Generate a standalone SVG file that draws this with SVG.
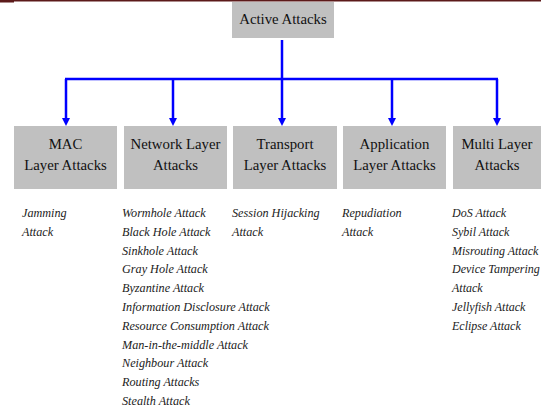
<svg xmlns="http://www.w3.org/2000/svg" width="541" height="412" viewBox="0 0 541 412">
<style>
.box{fill:#c0c0c0;}
.lbl{font-family:'Liberation Serif','DejaVu Serif',serif;font-size:14.8px;fill:#111;text-anchor:middle;}
.lst{font-family:'Liberation Serif','DejaVu Serif',serif;font-style:italic;font-size:12.2px;fill:#222;}
.con{stroke:#0000ff;stroke-width:2.5;fill:none;}
</style>
<rect x="0" y="0" width="541" height="412" fill="#fff"/>
<rect x="0" y="0" width="541" height="1.5" fill="#5c1a1a"/>
<rect x="0" y="0" width="14" height="2.5" fill="#5c1a1a"/>
<g id="connectors">
<path class="con" d="M282,40 V79"/>
<path class="con" d="M65,79 H498"/>
<path d="M66,79 V119" class="con"/><path d="M62,118 L70,118 L66,126 Z" fill="#0000ff"/>
<path d="M173,79 V119" class="con"/><path d="M169,118 L177,118 L173,126 Z" fill="#0000ff"/>
<path d="M282,79 V119" class="con"/><path d="M278,118 L286,118 L282,126 Z" fill="#0000ff"/>
<path d="M392,79 V119" class="con"/><path d="M388,118 L396,118 L392,126 Z" fill="#0000ff"/>
<path d="M497,79 V119" class="con"/><path d="M493,118 L501,118 L497,126 Z" fill="#0000ff"/>
</g>
<g id="active">
<rect class="box" x="232" y="2" width="102" height="36"/>
<text class="lbl" x="283" y="24">Active Attacks</text>
</g>
<g id="mac">
<rect class="box" x="14" y="126" width="103" height="63"/>
<text class="lbl" x="65.5" y="149">MAC</text>
<text class="lbl" x="65.5" y="170">Layer Attacks</text>
</g>
<g id="network">
<rect class="box" x="124" y="126" width="103" height="63"/>
<text class="lbl" x="175.5" y="149">Network Layer</text>
<text class="lbl" x="175.5" y="170">Attacks</text>
</g>
<g id="transport">
<rect class="box" x="233" y="126" width="104" height="63"/>
<text class="lbl" x="285" y="149">Transport</text>
<text class="lbl" x="285" y="170">Layer Attacks</text>
</g>
<g id="application">
<rect class="box" x="343" y="126" width="103" height="63"/>
<text class="lbl" x="394.5" y="149">Application</text>
<text class="lbl" x="394.5" y="170">Layer Attacks</text>
</g>
<g id="multi">
<rect class="box" x="453" y="126" width="88" height="63"/>
<text class="lbl" x="497" y="149">Multi Layer</text>
<text class="lbl" x="497" y="170">Attacks</text>
</g>
<g id="mac-list" class="lst">
<text x="22" y="217">Jamming</text>
<text x="22" y="236">Attack</text>
</g>
<g id="network-list" class="lst">
<text x="122" y="217">Wormhole Attack</text>
<text x="122" y="236">Black Hole Attack</text>
<text x="122" y="255">Sinkhole Attack</text>
<text x="122" y="273">Gray Hole Attack</text>
<text x="122" y="292">Byzantine Attack</text>
<text x="122" y="311">Information Disclosure Attack</text>
<text x="122" y="330">Resource Consumption Attack</text>
<text x="122" y="349">Man-in-the-middle Attack</text>
<text x="122" y="367">Neighbour Attack</text>
<text x="122" y="386">Routing Attacks</text>
<text x="122" y="405">Stealth Attack</text>
</g>
<g id="transport-list" class="lst">
<text x="232" y="217">Session Hijacking</text>
<text x="232" y="236">Attack</text>
</g>
<g id="application-list" class="lst">
<text x="342" y="217">Repudiation</text>
<text x="342" y="236">Attack</text>
</g>
<g id="multi-list" class="lst" font-size="12px" style="font-size:12px">
<text x="452" y="217">DoS Attack</text>
<text x="452" y="236">Sybil Attack</text>
<text x="452" y="255">Misrouting Attack</text>
<text x="452" y="273">Device Tampering</text>
<text x="452" y="292">Attack</text>
<text x="452" y="311">Jellyfish Attack</text>
<text x="452" y="330">Eclipse Attack</text>
</g>
</svg>
